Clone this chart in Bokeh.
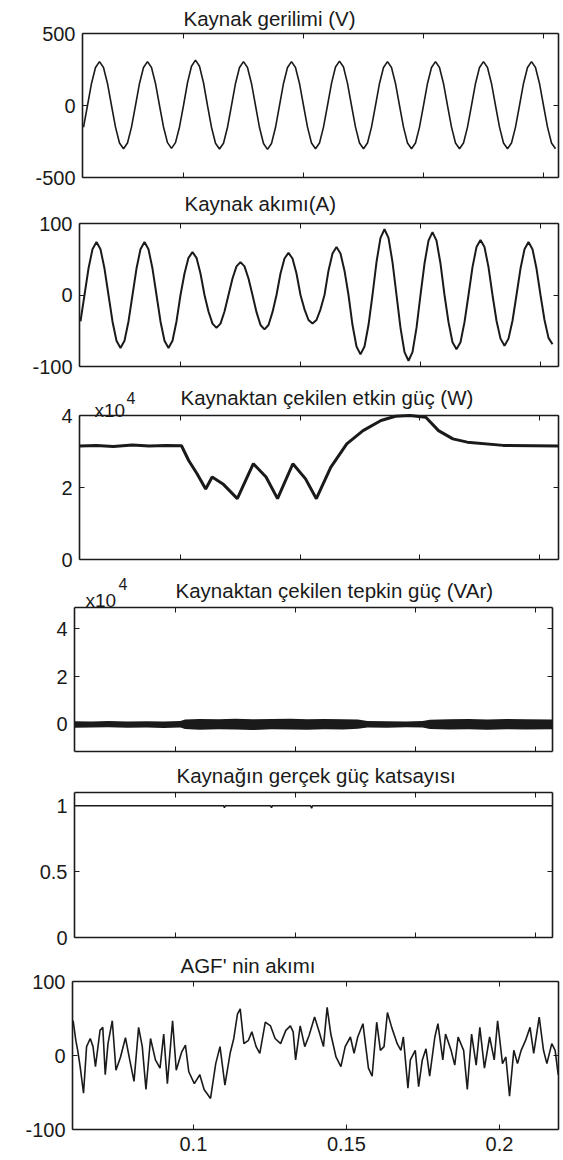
import numpy as np
from bokeh.plotting import figure
from bokeh.models import Range1d, FixedTicker, LinearAxis, Label, NumeralTickFormatter
from bokeh.embed import file_html
from bokeh.resources import INLINE

FONT = "Liberation Sans"
INK = "#1a1a1a"
W, H = 563, 1160

# ---------------- data ----------------
# source voltage / current records on a uniform sampling clock
VI_T0 = 0.0583333
VI_DT = 1.0 / 600.0
src_voltage = [-151,
    0, 153, 264, 305, 264, 153, 0, -150, -260, -300, -260, -150,
    0, 153, 264, 305, 264, 153, 0, -149, -258, -298, -258, -149,
    0, 158, 273, 315, 273, 158, 0, -151, -262, -302, -262, -151,
    0, 153, 264, 305, 264, 153, 0, -153, -264, -305, -264, -153,
    0, 153, 264, 305, 264, 153, 0, -150, -260, -300, -260, -150,
    0, 154, 267, 308, 267, 154, 0, -150, -260, -300, -260, -150,
    0, 153, 264, 305, 264, 153, 0, -150, -260, -300, -260, -150,
    0, 153, 264, 305, 264, 153, 0, -150, -260, -300, -260, -150,
    0, 153, 264, 305, 264, 153, 0, -150, -260, -300, -260, -150,
    0, 153, 264, 305, 264, 153, 0, -150, -260, -300]
src_current = [-37,
    0, 37, 64, 74, 64, 37, 0, -37, -64, -74, -64, -37,
    0, 37, 64, 74, 64, 37, 0, -37, -64, -74, -64, -37,
    0, 30, 52, 60, 52, 30, 0, -23, -40, -46, -40, -23,
    0, 23, 40, 46, 40, 23, 0, -24, -42, -48, -42, -24,
    0, 30, 51, 59, 51, 30, 0, -20, -35, -40, -35, -20,
    0, 34, 58, 67, 58, 34, 0, -42, -72, -83, -72, -42,
    0, 46, 80, 92, 80, 46, 0, -46, -80, -92, -80, -46,
    0, 44, 76, 88, 76, 44, 0, -38, -66, -76, -66, -38,
    0, 39, 67, 77, 67, 39, 0, -36, -61, -71, -61, -36,
    0, 37, 64, 74, 64, 37, 0, -35, -60, -69]

# active power drawn from source (x10^4 W)
p_time = [0.0580, 0.0650, 0.0720, 0.0800, 0.0870, 0.0940, 0.1005, 0.1035, 0.1070, 0.1106,
          0.1133, 0.1178, 0.1238, 0.1305, 0.1358, 0.1406, 0.1470, 0.1523, 0.1568, 0.1628,
          0.1695, 0.1763, 0.1838, 0.1898, 0.1958, 0.2025, 0.2078, 0.2138, 0.2198, 0.2348, 0.2578]
p_active = [3.15, 3.17, 3.14, 3.18, 3.15, 3.17, 3.16, 2.75, 2.38, 1.96,
            2.29, 2.10, 1.69, 2.66, 2.29, 1.69, 2.66, 2.24, 1.69, 2.56,
            3.21, 3.58, 3.86, 3.98, 4.00, 3.95, 3.58, 3.35, 3.26, 3.17, 3.15]

# reactive power drawn from source (x10^4 VAr): envelope of the noise band
q_time = [0.058, 0.065, 0.072, 0.080, 0.088, 0.095, 0.102, 0.104, 0.110, 0.118,
          0.125, 0.132, 0.140, 0.148, 0.155, 0.162, 0.170, 0.176, 0.180, 0.188,
          0.196, 0.203, 0.206, 0.214, 0.222, 0.230, 0.238, 0.246, 0.257]
q_upper = [0.13, 0.12, 0.14, 0.12, 0.13, 0.12, 0.14, 0.20, 0.22, 0.21,
           0.23, 0.21, 0.22, 0.23, 0.21, 0.22, 0.21, 0.20, 0.14, 0.13,
           0.12, 0.14, 0.19, 0.21, 0.22, 0.20, 0.22, 0.21, 0.20]
q_lower = [-0.14, -0.13, -0.12, -0.14, -0.13, -0.15, -0.13, -0.20, -0.23, -0.21,
           -0.22, -0.24, -0.21, -0.22, -0.23, -0.21, -0.22, -0.19, -0.13, -0.14,
           -0.12, -0.13, -0.20, -0.22, -0.21, -0.23, -0.21, -0.22, -0.21]

# true power factor of source
pf_time = [0.0580, 0.1200, 0.1204, 0.1208, 0.1396, 0.1400, 0.1404, 0.1563, 0.1567, 0.1571, 0.2570]
pf_value = [1.0, 1.0, 0.985, 1.0, 1.0, 0.985, 1.0, 1.0, 0.98, 1.0, 1.0]

# active filter (AGF) current
agf_time = [0.0607, 0.0616, 0.0622, 0.0630, 0.0641, 0.0651, 0.0663, 0.0672, 0.0680, 0.0695,
            0.0704, 0.0712, 0.0721, 0.0735, 0.0747, 0.0762, 0.0778, 0.0792, 0.0806, 0.0821,
            0.0833, 0.0845, 0.0860, 0.0876, 0.0891, 0.0903, 0.0915, 0.0932, 0.0944, 0.0962,
            0.0974, 0.0985, 0.1003, 0.1021, 0.1035, 0.1056, 0.1073, 0.1087, 0.1103, 0.1120,
            0.1132, 0.1144, 0.1153, 0.1165, 0.1179, 0.1191, 0.1205, 0.1217, 0.1235, 0.1252,
            0.1267, 0.1285, 0.1302, 0.1317, 0.1326, 0.1334, 0.1349, 0.1364, 0.1378, 0.1396,
            0.1411, 0.1425, 0.1437, 0.1449, 0.1466, 0.1482, 0.1496, 0.1513, 0.1525, 0.1537,
            0.1554, 0.1572, 0.1584, 0.1599, 0.1611, 0.1623, 0.1634, 0.1648, 0.1666, 0.1678,
            0.1686, 0.1701, 0.1709, 0.1725, 0.1736, 0.1748, 0.1760, 0.1772, 0.1789, 0.1799,
            0.1815, 0.1824, 0.1842, 0.1854, 0.1865, 0.1883, 0.1895, 0.1909, 0.1924, 0.1936,
            0.1951, 0.1968, 0.1983, 0.1994, 0.2010, 0.2021, 0.2033, 0.2047, 0.2059, 0.2071,
            0.2085, 0.2100, 0.2112, 0.2130, 0.2144, 0.2155, 0.2171, 0.2182, 0.2192]
agf_current = [47, 20, 7, -15, -51, 12, 23, 12, -15, 34,
               38, -26, 16, 47, -20, -2, 24, -6, -35, 38,
               12, -46, 23, -6, -17, 29, -38, 47, -20, 5,
               14, -22, -38, -26, -46, -58, -11, 12, -40, 3,
               23, 56, 63, 16, 20, 32, 12, 3, 45, 40,
               23, 16, 34, 40, 32, -6, 40, 12, 27, 52,
               32, 12, 65, 29, -2, -15, 12, 25, 3, 25,
               43, -17, -28, 45, 7, 12, 58, 38, 16, 7,
               25, -44, -6, 7, -42, -6, 9, -28, 25, 43,
               -6, 29, 7, -13, 25, 7, -46, 29, -13, 38,
               -17, 25, -6, 47, -11, -2, -55, 7, -11, 7,
               20, 38, 3, 52, 7, -11, 16, 7, -26]

titles = ["Kaynak gerilimi (V)", "Kaynak akımı(A)", "Kaynaktan çekilen etkin güç (W)",
          "Kaynaktan çekilen tepkin güç (VAr)", "Kaynağın gerçek güç katsayısı", "AGF' nin akımı"]

x_limits = [(0.05792, 0.25625), (0.05792, 0.2575), (0.05792, 0.2579),
            (0.05792, 0.25708), (0.05792, 0.25708), (0.0605, 0.2193)]
y_limits = [(-500, 500), (-100, 100), (0, 4), (-1.14, 4.9), (0, 1.1), (-100, 100)]
x_ticks = [[0.1, 0.15, 0.2, 0.25]] * 5 + [[0.1, 0.15, 0.2]]
y_ticks = [[-500, 0, 500], [-100, 0, 100], [0, 2, 4], [0, 2, 4], [0, 0.5, 1], [-100, 0, 100]]
y_formats = ["0", "0", "0", "0", "0.[0]", "0"]

vi_time = VI_T0 + VI_DT * np.arange(len(src_voltage))

# ---------------- layout (pixel boxes of the six panels: left, right, top, bottom) ----------------
boxes = [(82, 558, 33, 177), (79, 558, 223, 366), (79, 558, 415, 559),
         (74, 552, 607, 751), (74, 552, 792, 937), (72, 558, 981, 1129)]
title_pos = [(183, 18), (184, 203), (180, 397), (175, 590), (176, 775), (180, 965)]
mult_pos = {2: ((94, 410), (126, 397)), 3: ((85, 600), (118, 583))}

p = figure(width=W, height=H, x_range=Range1d(0, 1), y_range=Range1d(0, 1),
           min_border=0, x_axis_location=None, y_axis_location=None,
           toolbar_location=None, tools="", output_backend="svg")
p.grid.visible = False
p.outline_line_color = None
p.background_fill_color = "white"
p.border_fill_color = "white"


def span_range(d0, d1, p0, p1, total):
    s = (d1 - d0) / (p1 - p0)
    return Range1d(d0 - p0 * s, d1 + (total - p1) * s)


xr, yr = {}, {}
for k, (L, R, T, B) in enumerate(boxes):
    x0, x1 = x_limits[k]
    y0, y1 = y_limits[k]
    xr[f"x{k}"] = span_range(x0, x1, L, R, W)
    yr[f"y{k}"] = span_range(y0, y1, H - B, H - T, H)
p.extra_x_ranges = xr
p.extra_y_ranges = yr


def style(ax, show):
    ax.axis_line_color = INK
    ax.axis_line_width = 1.6
    ax.major_tick_in = 5
    ax.major_tick_out = 0
    ax.minor_tick_in = 0
    ax.minor_tick_out = 0
    ax.major_tick_line_color = INK
    ax.major_tick_line_width = 1
    ax.major_label_text_font = FONT
    ax.major_label_text_font_size = "20px"
    ax.major_label_standoff = 7
    ax.major_label_text_color = INK if show else None


for k in range(6):
    xn, yn = f"x{k}", f"y{k}"
    x0, x1 = x_limits[k]
    y0, y1 = y_limits[k]
    for side, loc in (("left", x0), ("right", x1)):
        ax = LinearAxis(x_range_name=xn, y_range_name=yn, fixed_location=loc, bounds=(y0, y1),
                        ticker=FixedTicker(ticks=y_ticks[k]),
                        formatter=NumeralTickFormatter(format=y_formats[k]))
        style(ax, side == "left")
        p.add_layout(ax, side)
    for side, loc in (("below", y0), ("above", y1)):
        ax = LinearAxis(x_range_name=xn, y_range_name=yn, fixed_location=loc, bounds=(x0, x1),
                        ticker=FixedTicker(ticks=x_ticks[k]),
                        formatter=NumeralTickFormatter(format="0.[00]"))
        style(ax, side == "below" and k == 5)
        p.add_layout(ax, side)
    tx, ty = title_pos[k]
    p.add_layout(Label(x=tx, y=H - ty, x_units="screen", y_units="screen", text=titles[k],
                       text_font=FONT, text_font_size="20.5px", text_color=INK,
                       text_baseline="middle", text_align="left"))
    if k in mult_pos:
        (mx, my), (sx, sy) = mult_pos[k]
        p.add_layout(Label(x=mx, y=H - my, x_units="screen", y_units="screen", text="x10",
                           text_font=FONT, text_font_size="19px", text_color=INK,
                           text_baseline="alphabetic", text_align="left"))
        p.add_layout(Label(x=sx, y=H - sy, x_units="screen", y_units="screen", text="4",
                           text_font=FONT, text_font_size="16px", text_color=INK,
                           text_baseline="alphabetic", text_align="left"))

p.line(vi_time, src_voltage, x_range_name="x0", y_range_name="y0", line_color=INK, line_width=1.6)
p.line(vi_time, src_current, x_range_name="x1", y_range_name="y1", line_color=INK, line_width=2)
p.line(p_time, p_active, x_range_name="x2", y_range_name="y2", line_color=INK, line_width=3)
p.varea(x=q_time, y1=q_lower, y2=q_upper, x_range_name="x3", y_range_name="y3", fill_color=INK)
p.line(pf_time, pf_value, x_range_name="x4", y_range_name="y4", line_color=INK, line_width=1.5)
p.line(agf_time, agf_current, x_range_name="x5", y_range_name="y5", line_color=INK, line_width=1.6)

open("out.html", "w").write(file_html(p, INLINE))
